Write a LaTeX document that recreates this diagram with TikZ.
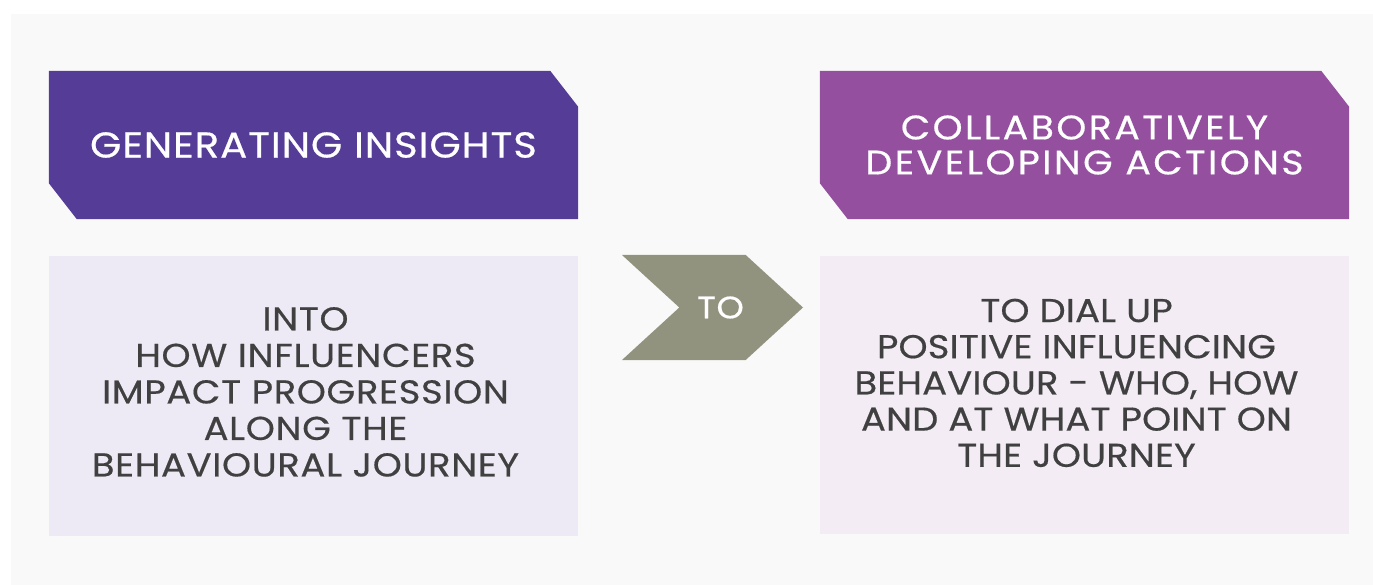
\documentclass[tikz,border=0pt]{standalone}
\usepackage{fontspec}
\setmainfont{Poppins}
\usepackage{xcolor}
\usepackage{tikz}
\usetikzlibrary{positioning,shapes.symbols,calc,backgrounds}

\definecolor{panelgrey}{HTML}{F9F9F9}
\definecolor{insightpurple}{HTML}{553C96}
\definecolor{actionpurple}{HTML}{944F9E}
\definecolor{insightlight}{HTML}{EEEAF5}
\definecolor{actionlight}{HTML}{F3ECF5}
\definecolor{arrowgrey}{HTML}{92937F}
\definecolor{bodytext}{HTML}{404040}

% size, baselineskip, letter spacing
\newcommand{\boxfont}[3]{\fontsize{#1}{#2}\selectfont\addfontfeature{FakeStretch=1.12,FakeBold=0.5,LetterSpace=#3}}

\tikzset{
  header/.style={rectangle, minimum width=529pt, minimum height=148pt, inner sep=0pt, text=white, align=center},
  bodybox/.style={rectangle, minimum width=529pt, inner sep=0pt},
  bodytxt/.style={text=bodytext, align=center, inner sep=0pt},
}

\begin{document}
\begin{tikzpicture}[x=1pt,y=-1pt]
	\begin{scope}[on background layer]
		\useasboundingbox[fill=white] (0,0) rectangle (1373,585);
		\fill[panelgrey] (11,14) rectangle (1373,585);
	\end{scope}
	% headers
	\node[header, font=\boxfont{36}{39}{2.5}] (insights) at (313.5,145) {GENERATING INSIGHTS};
	\node[header, font=\boxfont{34}{35}{7}] (actions) at (1084.5,145) {COLLABORATIVELY\\DEVELOPING ACTIONS};
	\begin{scope}[on background layer]
	\foreach \hd/\col in {insights/insightpurple,actions/actionpurple}{
		\fill[\col] (\hd.north west) -- ($(\hd.north east)+(-28,0)$) -- ($(\hd.north east)+(0,36)$)
			-- (\hd.south east) -- ($(\hd.south west)+(28,0)$) -- ($(\hd.south west)+(0,-36)$) -- cycle;
	}
	\end{scope}
	% bodies
	\node[bodybox, fill=insightlight, minimum height=280pt, below=37pt of insights] (into) {};
	\node[bodybox, fill=actionlight, minimum height=278pt, below=37pt of actions] (dialup) {};
	\node[bodytxt, font=\boxfont{33}{36.5}{2}] (intotext) at ($(into.center)+(-8,-4.5)$)
		{INTO\\HOW INFLUENCERS\\IMPACT PROGRESSION\\ALONG THE\\BEHAVIOURAL JOURNEY};
	\node[bodytxt, font=\boxfont{33}{36.2}{0.5}] (dialuptext) at ($(dialup.center)+(-8,-12.5)$)
		{TO DIAL UP\\POSITIVE INFLUENCING\\BEHAVIOUR - WHO, HOW\\AND AT WHAT POINT ON\\THE JOURNEY};
	% arrow
	\node[signal, signal from=west, signal to=east, signal pointer angle=85, fill=arrowgrey,
		minimum width=181pt, minimum height=105pt, inner sep=0pt, text=white,
		font=\boxfont{31}{33}{2}] (to) at (712.5,307.5) {\hspace{16pt}TO};
\end{tikzpicture}
\end{document}
